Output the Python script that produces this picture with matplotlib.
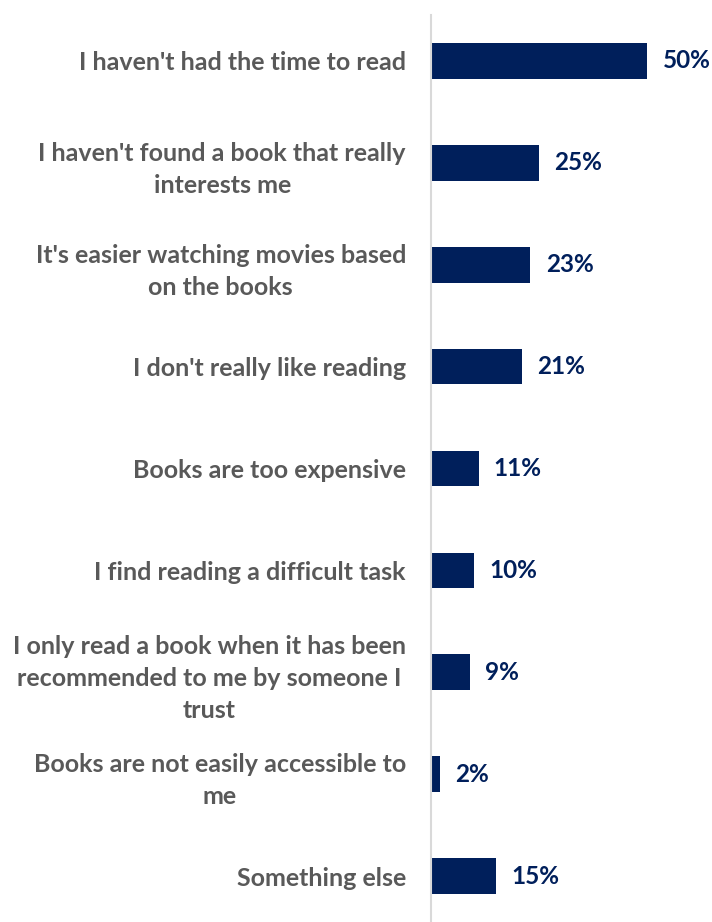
import matplotlib
matplotlib.use('Agg')
import matplotlib.pyplot as plt

# reasons for not reading, top to bottom
reasons = [
    "I haven't had the time to read",
    "I haven't found a book that really\ninterests me",
    "It's easier watching movies based\non the books",
    "I don't really like reading",
    "Books are too expensive",
    "I find reading a difficult task",
    "I only read a book when it has been\nrecommended to me by someone I\ntrust",
    "Books are not easily accessible to\nme",
    "Something else",
]
shares = [50, 25, 23, 21, 11, 10, 9, 2, 15]

navy = "#001f5b"
grey_text = "#595959"
plt.rcParams['font.family'] = ['Lato', 'DejaVu Sans']

fig = plt.figure(figsize=(7.12, 9.22), dpi=100)
ax = fig.add_axes([431 / 712, -5 / 922, 281 / 712, 917 / 922])

pos = list(range(len(reasons)))
ax.barh(pos, shares, height=0.35, color=navy)
ax.set_ylim(len(reasons) - 0.5, -0.5)
ax.set_xlim(0, 65)

for y, v in zip(pos, shares):
    ax.annotate(f"{v}%", xy=(v, y), xytext=(11, 0), textcoords="offset points",
                ha="left", va="center", fontsize=17.5, weight="bold", color=navy)

ax.set_yticks(pos)
ax.set_yticklabels(reasons, fontsize=18, weight="bold", color=grey_text)
for lbl in ax.get_yticklabels():
    lbl.set_multialignment("center")
    lbl.set_linespacing(1.48)
ax.tick_params(axis="y", length=0, pad=18)
ax.tick_params(axis="x", bottom=False, labelbottom=False)

for s in ["top", "right", "bottom"]:
    ax.spines[s].set_visible(False)
ax.spines["left"].set_color("#d9d9d9")
ax.spines["left"].set_linewidth(1.5)
ax.spines["left"].set_bounds(-0.45, 8.55)

plt.savefig("out.png", dpi=100)
